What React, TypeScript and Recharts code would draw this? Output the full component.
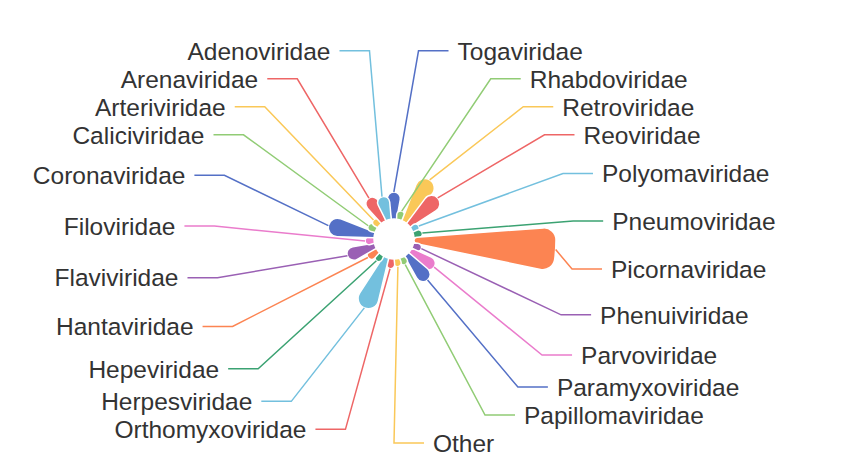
import React from 'react';
import { RadialBarChart, RadialBar, PolarAngleAxis, PolarRadiusAxis, Cell } from 'recharts';

// clockwise from 12 o'clock
const families = [
  'Togaviridae', 'Rhabdoviridae', 'Retroviridae', 'Reoviridae', 'Polyomaviridae',
  'Pneumoviridae', 'Picornaviridae', 'Phenuiviridae', 'Parvoviridae', 'Paramyxoviridae',
  'Papillomaviridae', 'Other', 'Orthomyxoviridae', 'Herpesviridae', 'Hepeviridae',
  'Hantaviridae', 'Flaviviridae', 'Filoviridae', 'Coronaviridae', 'Caliciviridae',
  'Arteriviridae', 'Arenaviridae', 'Adenoviridae',
];
const counts = [54, 18, 98, 80, 16, 18, 284, 18, 58, 66, 16, 16, 20, 110, 16, 24, 59, 18, 94, 18, 16, 56, 48];
const palette = ['#5470c6', '#91cc75', '#fac858', '#ee6666', '#73c0de', '#3ba272', '#fc8452', '#9a60b4', '#ea7ccc'];

const data = families.map((name, i) => ({ name, value: counts[i] }));

const RAD = Math.PI / 180;
const HALF_BAND = 180 / families.length;
const CORNER = 12;
const BULB = 1.15;
const ELBOW_X = 180;
const ELBOW_Y = 190;
const LEN2 = 30;
const TEXT_GAP = 9;
const LABEL_H = 28;
const LABEL_BOTTOM = 457;
const FONT = '"Liberation Sans", Arial, sans-serif';

type LabelPos = { x: number; y: number; dir: number };

// echarts-like outside label placement: push overlapping labels down, squeeze to the bottom, refit x to an ellipse
function layoutLabels(cx: number, cy: number, n: number): LabelPos[] {
  const step = 360 / n;
  const items = Array.from({ length: n }, (_, i) => {
    const a = (90 - (i + 0.5) * step) * RAD;
    const nx = Math.cos(a);
    const ny = -Math.sin(a);
    return { i, dir: nx < -1e-6 ? -1 : 1, x: cx + ELBOW_X * nx, y: cy + ELBOW_Y * ny };
  });
  const result: LabelPos[] = [];
  for (const dir of [-1, 1]) {
    const list = items.filter((it) => it.dir === dir).sort((a, b) => a.y - b.y);
    let moved = false;
    for (let k = 1; k < list.length; k++) {
      const need = list[k - 1].y + LABEL_H - list[k].y;
      if (need > 0) {
        list[k].y += need;
        moved = true;
      }
    }
    const over = list[list.length - 1].y + LABEL_H / 2 - LABEL_BOTTOM;
    if (over > 0) {
      const gaps = list.slice(1).map((it, k) => Math.max(it.y - list[k].y - LABEL_H, 0));
      const total = gaps.reduce((s, g) => s + g, 0);
      if (total > 0) {
        const pct = Math.min(over / total, 0.8);
        for (let k = list.length - 1; k > 0; k--) {
          const mv = gaps[k - 1] * pct;
          for (let j = k; j < list.length; j++) list[j].y -= mv;
        }
      }
      moved = true;
    }
    if (moved) {
      const semis = [list.filter((it) => it.y <= cy), list.filter((it) => it.y > cy)];
      for (const semi of semis) {
        let maxY = 0;
        let rB = ELBOW_Y;
        for (const it of semi) {
          const dy = Math.abs(it.y - cy);
          if (dy >= maxY) {
            const dx = it.x - cx;
            rB = Math.abs(dx) < ELBOW_X ? Math.sqrt((dy * dy) / (1 - (dx * dx) / (ELBOW_X * ELBOW_X))) : ELBOW_X;
            maxY = dy;
          }
        }
        for (const it of semi) {
          const dy = Math.abs(it.y - cy);
          it.x = cx + dir * Math.sqrt(Math.max(0, 1 - (dy * dy) / (rB * rB))) * ELBOW_X;
        }
      }
    }
    list.forEach((it) => {
      result[it.i] = { x: it.x, y: it.y, dir };
    });
  }
  return result;
}

let cachedKey = '';
let cachedLayout: LabelPos[] = [];
function getLayout(cx: number, cy: number) {
  const key = `${cx},${cy}`;
  if (key !== cachedKey) {
    cachedLayout = layoutLabels(cx, cy, families.length);
    cachedKey = key;
  }
  return cachedLayout;
}

// sector with rounded corners (used for the long petal)
function roundedSector(cx: number, cy: number, r0: number, r1: number, lo: number, hi: number) {
  const s = Math.sin((hi - lo) / 2);
  const depth = Math.max(r1 - r0, 0.5);
  const co = Math.min(CORNER, depth / 2, (r1 * s) / (1 + s));
  const ci = Math.min(CORNER, depth / 2, (r0 * s) / (1 - s));
  const to = Math.asin(co / (r1 - co));
  const ti = Math.asin(ci / (r0 + ci));
  let lOut = Math.sqrt((r1 - co) ** 2 - co ** 2);
  const lIn = Math.sqrt((r0 + ci) ** 2 - ci ** 2);
  if (lOut < lIn) lOut = lIn;
  const P = (r: number, a: number) => `${cx + r * Math.cos(a)},${cy - r * Math.sin(a)}`;
  return [
    `M${P(lIn, hi)}`,
    `L${P(lOut, hi)}`,
    `A${co},${co} 0 0 1 ${P(r1, hi - to)}`,
    `A${r1},${r1} 0 0 1 ${P(r1, lo + to)}`,
    `A${co},${co} 0 0 1 ${P(lOut, lo)}`,
    `L${P(lIn, lo)}`,
    `A${ci},${ci} 0 0 1 ${P(r0, lo + ti)}`,
    `A${r0},${r0} 0 0 0 ${P(r0, hi - ti)}`,
    `A${ci},${ci} 0 0 1 ${P(lIn, hi)}`,
    'Z',
  ].join(' ');
}

// narrow base, round bulb at the tip
function spoon(cx: number, cy: number, r0: number, r1: number, lo: number, hi: number, b: number) {
  const m = (lo + hi) / 2;
  const c = { x: (r1 - b) * Math.cos(m), y: (r1 - b) * Math.sin(m) };
  const side = { x: Math.cos(m + Math.PI / 2), y: Math.sin(m + Math.PI / 2) };
  const tangent = (q: { x: number; y: number }, sgn: number) => {
    const vx = c.x - q.x;
    const vy = c.y - q.y;
    const L = Math.hypot(vx, vy);
    if (L <= b + 0.01) return { x: c.x + sgn * side.x * b, y: c.y + sgn * side.y * b };
    const al = Math.asin(b / L);
    const len = L * Math.cos(al);
    let best = { x: 0, y: 0 };
    let bestScore = -Infinity;
    for (const k of [-1, 1]) {
      const ang = Math.atan2(vy, vx) + k * al;
      const t = { x: q.x + len * Math.cos(ang), y: q.y + len * Math.sin(ang) };
      const score = sgn * ((t.x - c.x) * side.x + (t.y - c.y) * side.y);
      if (score > bestScore) {
        bestScore = score;
        best = t;
      }
    }
    return best;
  };
  const qHi = { x: r0 * Math.cos(hi), y: r0 * Math.sin(hi) };
  const qLo = { x: r0 * Math.cos(lo), y: r0 * Math.sin(lo) };
  const tHi = tangent(qHi, 1);
  const tLo = tangent(qLo, -1);
  const aHi = Math.atan2(tHi.y - c.y, tHi.x - c.x);
  const aLo = Math.atan2(tLo.y - c.y, tLo.x - c.x);
  const sweepAng = (((aHi - aLo) % (2 * Math.PI)) + 2 * Math.PI) % (2 * Math.PI);
  const S = (p: { x: number; y: number }) => `${cx + p.x},${cy - p.y}`;
  return [
    `M${S(qHi)}`,
    `L${S(tHi)}`,
    `A${b},${b} 0 ${sweepAng > Math.PI ? 1 : 0} 1 ${S(tLo)}`,
    `L${S(qLo)}`,
    `A${r0},${r0} 0 0 0 ${S(qHi)}`,
    'Z',
  ].join(' ');
}

function petalPath(cx: number, cy: number, r0: number, r1: number, a0: number, a1: number) {
  const lo = Math.min(a0, a1) * RAD;
  const hi = Math.max(a0, a1) * RAD;
  const s = Math.sin((hi - lo) / 2);
  const b = (BULB * r1 * s) / (1 + BULB * s);
  if (b > CORNER) return roundedSector(cx, cy, r0, r1, lo, hi);
  return spoon(cx, cy, r0, r1, lo, hi, Math.min(b, (r1 - r0) / 2 + 1.5));
}

const Petal = (props: any) => {
  const { cx, cy, innerRadius, outerRadius, startAngle, endAngle, index, fill } = props;
  const color = fill || palette[index % palette.length];
  return (
    <path
      d={petalPath(cx, cy, innerRadius, outerRadius, startAngle, endAngle)}
      fill={color}
      stroke="#fff"
      strokeWidth={1.5}
      strokeLinejoin="round"
    />
  );
};

const LeaderLabel = (props: any) => {
  const { viewBox, index } = props;
  if (!viewBox || index == null) return null;
  const { cx, cy, outerRadius, startAngle, endAngle } = viewBox;
  const color = palette[index % palette.length];
  const pos = getLayout(cx, cy)[index];
  const mid = ((startAngle + endAngle) / 2) * RAD;
  const sx = cx + outerRadius * Math.cos(mid);
  const sy = cy - outerRadius * Math.sin(mid);
  const endX = pos.x + pos.dir * LEN2;
  return (
    <g>
      <polyline
        points={`${sx},${sy} ${pos.x},${pos.y} ${endX},${pos.y}`}
        fill="none"
        stroke={color}
        strokeWidth={1.5}
      />
      <text
        x={endX + pos.dir * TEXT_GAP}
        y={pos.y}
        dy="0.36em"
        textAnchor={pos.dir < 0 ? 'end' : 'start'}
        fontSize={24.5}
        fontFamily={FONT}
        fill="#333"
      >
        {families[index]}
      </text>
    </g>
  );
};

export default function App() {
  return (
    <div style={{ position: 'absolute', left: 0, top: 0, width: 850, height: 464, background: '#fff' }}>
      <RadialBarChart
        width={850}
        height={464}
        data={data}
        cx={394}
        cy={239}
        innerRadius={20}
        outerRadius={162}
        startAngle={90 - HALF_BAND}
        endAngle={-270 - HALF_BAND}
        layout="centric"
        barCategoryGap="0%"
        barGap={0}
        margin={{ top: 0, right: 0, bottom: 0, left: 0 }}
      >
        <PolarAngleAxis type="category" dataKey="name" tick={false} axisLine={false} />
        <PolarRadiusAxis type="number" domain={[0, 'dataMax']} tick={false} axisLine={false} />
        <RadialBar dataKey="value" isAnimationActive={false} shape={Petal} label={LeaderLabel}>
          {data.map((d, i) => (
            <Cell key={d.name} fill={palette[i % palette.length]} />
          ))}
        </RadialBar>
      </RadialBarChart>
    </div>
  );
}
